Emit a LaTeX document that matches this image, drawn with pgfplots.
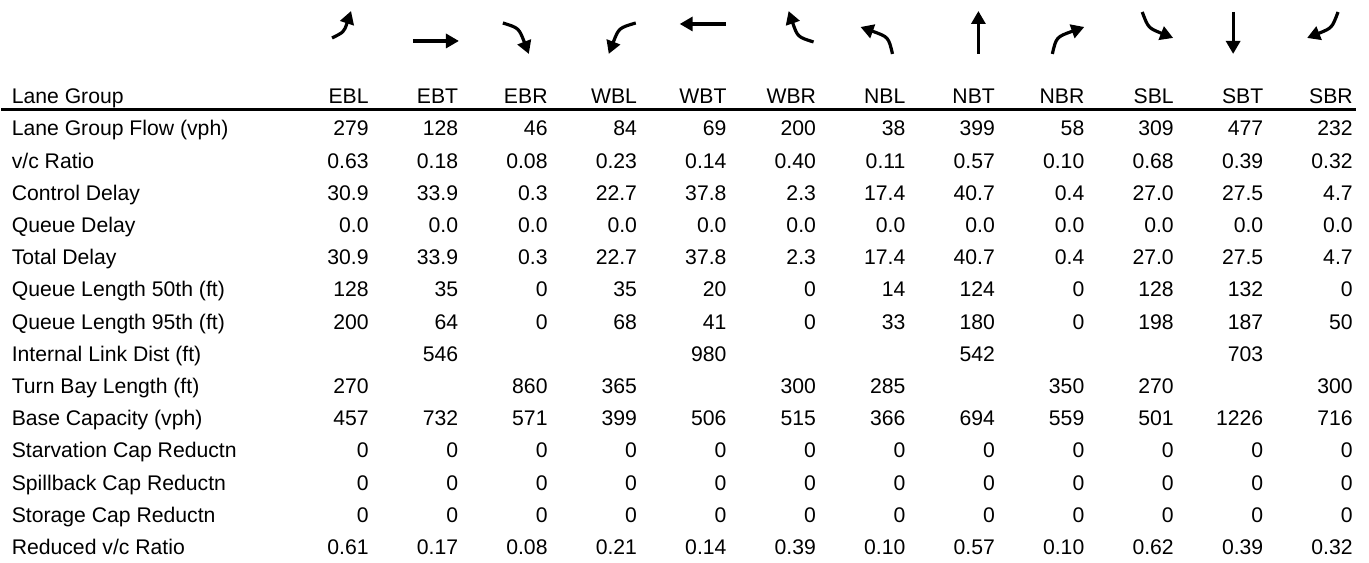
\documentclass[border=0pt]{standalone}
\usepackage{fontspec}
\setmainfont{Liberation Sans}
\usepackage{pgfplots}
\usepackage{pgfplotstable}
\pgfplotsset{compat=1.18}
\usetikzlibrary{arrows.meta}

% row 0 is the header, the rest are the lane group rows
\pgfplotstableread[col sep=comma, header=false]{
Lane Group,EBL,EBT,EBR,WBL,WBT,WBR,NBL,NBT,NBR,SBL,SBT,SBR
Lane Group Flow (vph),279,128,46,84,69,200,38,399,58,309,477,232
v/c Ratio,0.63,0.18,0.08,0.23,0.14,0.40,0.11,0.57,0.10,0.68,0.39,0.32
Control Delay,30.9,33.9,0.3,22.7,37.8,2.3,17.4,40.7,0.4,27.0,27.5,4.7
Queue Delay,0.0,0.0,0.0,0.0,0.0,0.0,0.0,0.0,0.0,0.0,0.0,0.0
Total Delay,30.9,33.9,0.3,22.7,37.8,2.3,17.4,40.7,0.4,27.0,27.5,4.7
Queue Length 50th (ft),128,35,0,35,20,0,14,124,0,128,132,0
Queue Length 95th (ft),200,64,0,68,41,0,33,180,0,198,187,50
Internal Link Dist (ft),,546,,,980,,,542,,,703,
Turn Bay Length (ft),270,,860,365,,300,285,,350,270,,300
Base Capacity (vph),457,732,571,399,506,515,366,694,559,501,1226,716
Starvation Cap Reductn,0,0,0,0,0,0,0,0,0,0,0,0
Spillback Cap Reductn,0,0,0,0,0,0,0,0,0,0,0,0
Storage Cap Reductn,0,0,0,0,0,0,0,0,0,0,0,0
Reduced v/c Ratio,0.61,0.17,0.08,0.21,0.14,0.39,0.10,0.57,0.10,0.62,0.39,0.32
}\lanedata

\newcommand\cellfont{\fontsize{10.6}{12}\selectfont}

\begin{document}
\begin{tikzpicture}
\begin{axis}[
  scale only axis,
  width=684.5pt, height=281.5pt,
  xmin=0, xmax=1369, ymin=0, ymax=563,
  y dir=reverse,
  hide axis,
  clip=false,
  point meta=explicit symbolic,
  nodes near coords,
  every node near coord/.style={inner sep=0pt, font=\cellfont, text=black},
]
\path (axis cs:0,0) rectangle (axis cs:1369,563);

% row labels
\addplot[draw=none, mark=none, every node near coord/.append style={anchor=base west}]
  table[x expr=10, y expr={103.8+32.23*\coordindex}, meta index=0] {\lanedata};

% value columns, right aligned
\pgfplotsinvokeforeach{1,...,12}{
  \addplot[draw=none, mark=none, every node near coord/.append style={anchor=base east}]
    table[x expr={368+89.55*(#1-1)}, y expr={103.8+32.23*\coordindex}, meta index=#1] {\lanedata};
}

\draw[line width=1.4pt] (axis cs:0,109.5) -- (axis cs:1356,109.5);

% movement arrows
\begin{scope}[line width=1.6pt, -{Triangle[length=6.5pt,width=7pt]}]
\draw (331,38) .. controls (343,32) .. (350,11);
\draw (412,41) -- (458,41);
\draw (502,23) .. controls (518,28) .. (528,54);
\draw (635,23) .. controls (618,28) .. (608,54);
\draw (725,24) -- (679,24);
\draw (813,42) .. controls (797,37) .. (788,11);
\draw (892,54) .. controls (888,37) .. (860,27);
\draw (978,54) -- (978,11);
\draw (1052,54) .. controls (1056,37) .. (1084,27);
\draw (1142,12) .. controls (1148,28) .. (1173,38);
\draw (1233,12) -- (1233,54);
\draw (1338,12) .. controls (1332,28) .. (1307,38);
\end{scope}
\end{axis}
\end{tikzpicture}
\end{document}
